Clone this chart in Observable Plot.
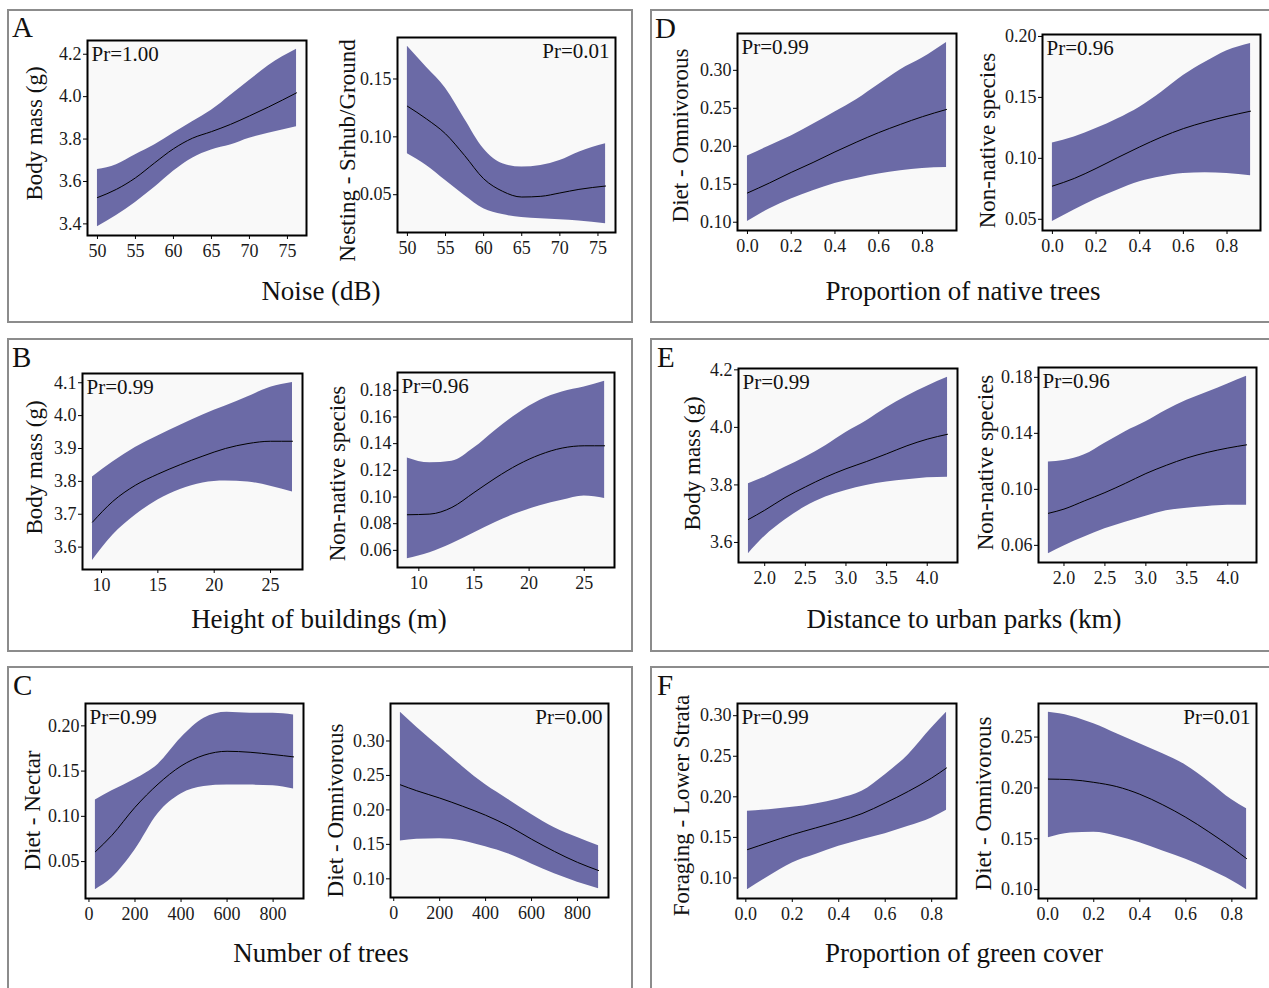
<!DOCTYPE html>
<html><head><meta charset="utf-8">
<script src="https://cdn.jsdelivr.net/npm/d3@7"></script>
<script src="https://cdn.jsdelivr.net/npm/@observablehq/plot@0.6"></script>
<style>
body{margin:0;background:#fff;}
#fig{position:relative;width:1269px;height:988px;overflow:hidden;background:#fff;font-family:"Liberation Serif","Times New Roman",serif;}
.box{position:absolute;box-sizing:border-box;border:2px solid #8c8c8c;}
.sub{position:absolute;}
#overlay{position:absolute;left:0;top:0;}
</style></head><body><div id="fig"></div>
<script>
// ---------- DATA ----------
// A: Noise (dB)
const a1X = [50,52.5,55,57.5,60,62.5,65,67.5,70,72.5,76.2];
const a1Fit = [3.524,3.563,3.617,3.687,3.754,3.804,3.835,3.869,3.909,3.951,4.018];
const a1Hi = [3.656,3.679,3.726,3.772,3.827,3.882,3.936,4.006,4.076,4.146,4.223];
const a1Lo = [3.387,3.439,3.501,3.571,3.648,3.710,3.749,3.772,3.804,3.827,3.858];
const a2X = [50,52.5,55,57.5,60,62.5,65,67.5,70,72.5,76];
const a2Fit = [0.1265,0.1155,0.1026,0.0839,0.0638,0.0529,0.048,0.0486,0.0515,0.0546,0.0575];
const a2Hi = [0.1782,0.1601,0.142,0.1155,0.0897,0.0767,0.0739,0.0753,0.0796,0.0868,0.094];
const a2Lo = [0.0853,0.0753,0.0623,0.0494,0.0379,0.0328,0.0302,0.0293,0.0284,0.0273,0.025];
// D: Proportion of native trees
const d1X = [0,0.1,0.2,0.3,0.4,0.5,0.6,0.7,0.8,0.91];
const d1Fit = [0.1385,0.1516,0.1656,0.1787,0.1926,0.2057,0.218,0.2289,0.239,0.2485];
const d1Hi = [0.1873,0.2004,0.2135,0.2289,0.245,0.2616,0.2813,0.3009,0.3162,0.3367];
const d1Lo = [0.1009,0.1175,0.1306,0.1415,0.1511,0.1577,0.1634,0.1677,0.1708,0.1721];
const d2X = [0,0.1,0.2,0.3,0.4,0.5,0.6,0.7,0.8,0.908];
const d2Fit = [0.0772,0.0835,0.0917,0.1007,0.1094,0.1175,0.1244,0.1298,0.1344,0.1387];
const d2Hi = [0.1126,0.1175,0.1244,0.1325,0.142,0.1543,0.1679,0.1788,0.1883,0.1943];
const d2Lo = [0.0481,0.0576,0.0664,0.074,0.0808,0.0848,0.0876,0.0881,0.0876,0.0857];
// B: Height of buildings (m)
const b1X = [9.2,11,13,15,17,19,21,23,25,26.95];
const b1Fit = [3.676,3.739,3.788,3.822,3.851,3.877,3.9,3.915,3.922,3.922];
const b1Hi = [3.813,3.859,3.903,3.938,3.971,4.002,4.029,4.057,4.086,4.101];
const b1Lo = [3.559,3.636,3.697,3.743,3.775,3.795,3.801,3.798,3.785,3.768];
const b2X = [8.96,11,13,15,17,19,21,23,25,26.85];
const b2Fit = [0.0867,0.0872,0.0922,0.1033,0.1145,0.1243,0.1318,0.1367,0.1384,0.1384];
const b2Hi = [0.1293,0.1256,0.1268,0.1367,0.1503,0.1627,0.1726,0.1788,0.1825,0.1867];
const b2Lo = [0.0538,0.0583,0.065,0.0731,0.0811,0.088,0.0934,0.0976,0.1008,0.0989];
// E: Distance to urban parks (km)
const e1X = [1.8,2.0,2.25,2.5,2.75,3.0,3.25,3.5,3.75,4.0,4.25];
const e1Fit = [3.68,3.712,3.756,3.793,3.827,3.856,3.881,3.908,3.936,3.959,3.976];
const e1Hi = [3.804,3.827,3.861,3.896,3.936,3.982,4.022,4.068,4.108,4.143,4.174];
const e1Lo = [3.561,3.621,3.678,3.724,3.758,3.781,3.798,3.81,3.818,3.825,3.827];
const e2X = [1.81,2.0,2.25,2.5,2.75,3.0,3.25,3.5,3.75,4.0,4.23];
const e2Fit = [0.0829,0.0859,0.0918,0.0977,0.1043,0.1113,0.1172,0.1224,0.1264,0.1295,0.1318];
const e2Hi = [0.1196,0.1207,0.1247,0.133,0.1412,0.1482,0.1565,0.1636,0.1694,0.1753,0.1807];
const e2Lo = [0.0541,0.0596,0.0659,0.0718,0.0765,0.0808,0.0847,0.0866,0.0878,0.0887,0.0887];
// C: Number of trees
const c1X = [28,100,200,300,400,500,600,700,800,889];
const c1Fit = [0.0609,0.0791,0.11,0.1356,0.1556,0.1676,0.1719,0.1708,0.1683,0.1657];
const c1Hi = [0.118,0.1282,0.141,0.1574,0.1865,0.2083,0.2149,0.2138,0.2138,0.212];
const c1Lo = [0.019,0.0318,0.0627,0.1028,0.1246,0.1329,0.1345,0.1345,0.1337,0.1301];
const c2X = [29,100,200,300,400,500,600,700,800,892];
const c2Fit = [0.2364,0.2278,0.2172,0.2053,0.1923,0.1766,0.1575,0.1397,0.1239,0.112];
const c2Hi = [0.3416,0.3201,0.2914,0.2627,0.2364,0.2149,0.1934,0.1741,0.1598,0.1479];
const c2Lo = [0.155,0.1575,0.1583,0.155,0.1464,0.1359,0.1216,0.1072,0.0952,0.0857];
// F: Proportion of green cover
const f1X = [0.007,0.1,0.2,0.3,0.4,0.5,0.6,0.7,0.8,0.864];
const f1Fit = [0.1349,0.1439,0.1534,0.1616,0.1698,0.1793,0.1924,0.2068,0.2232,0.2356];
const f1Hi = [0.1821,0.1842,0.187,0.1912,0.1974,0.2068,0.2273,0.252,0.2848,0.3041];
const f1Lo = [0.0856,0.102,0.1185,0.1288,0.139,0.1472,0.1546,0.1636,0.174,0.1833];
const f2X = [0.003,0.1,0.2,0.3,0.4,0.5,0.6,0.7,0.8,0.864];
const f2Fit = [0.2087,0.2081,0.2055,0.2013,0.1938,0.1834,0.1711,0.1568,0.1412,0.1305];
const f2Hi = [0.2743,0.2705,0.263,0.2532,0.2435,0.2337,0.2224,0.2062,0.1883,0.1795];
const f2Lo = [0.151,0.1558,0.1565,0.1526,0.1461,0.138,0.1298,0.1201,0.1088,0.1];

// tick values
const noiseTicks = [50,55,60,65,70,75];
const buildingTicks = [10,15,20,25];
const treeTicks = [0,200,400,600,800];
const propTicks = [0,0.2,0.4,0.6,0.8];
const parkTicks = [2.0,2.5,3.0,3.5,4.0];

// panel texts
const panelLetters = ["A","B","C","D","E","F"];
const panelTitles = ["Noise (dB)","Height of buildings (m)","Number of trees","Proportion of native trees","Distance to urban parks (km)","Proportion of green cover"];
const yLabels = ["Body mass (g)","Nesting - Srhub/Ground","Body mass (g)","Non-native species","Diet - Nectar","Diet - Omnivorous",
                 "Diet - Omnivorous","Non-native species","Body mass (g)","Non-native species","Foraging - Lower Strata","Diet - Omnivorous"];
const prLabels = ["Pr=1.00","Pr=0.01","Pr=0.99","Pr=0.96","Pr=0.99","Pr=0.00","Pr=0.99","Pr=0.96","Pr=0.99","Pr=0.96","Pr=0.99","Pr=0.01"];

// ---------- LAYOUT ----------
const FONT = '"Liberation Serif","Times New Roman",serif';
const RIBBON = "#6b6aa6";
const fig = document.getElementById("fig");

// panel boxes [left, top, width, height]
const boxes = [[7,9,626,314],[7,338,626,314],[7,666,626,340],[650,9,640,314],[650,338,640,314],[650,666,640,340]];
boxes.forEach(b=>{
  const d=document.createElement("div"); d.className="box";
  Object.assign(d.style,{left:b[0]+"px",top:b[1]+"px",width:b[2]+"px",height:b[3]+"px"});
  fig.appendChild(d);
});

// letters & titles as text in an overlay svg
const letterPos = [[12,37],[12,367],[13,695],[655,38],[657,367],[657,695]];
const titlePos = [[321,300],[319,628],[321,962],[963,300],[964,628],[964,962]];
const ov = d3.select(fig).append("svg").attr("id","overlay").attr("width",1269).attr("height",988)
  .style("font-family",FONT);
panelLetters.forEach((t,i)=>ov.append("text").attr("x",letterPos[i][0]).attr("y",letterPos[i][1]).attr("font-size",29).attr("fill","#111").text(t));
panelTitles.forEach((t,i)=>ov.append("text").attr("x",titlePos[i][0]).attr("y",titlePos[i][1]).attr("font-size",27).attr("text-anchor","middle").attr("fill","#111").text(t));

// subplot specs: frame [L,T,R,B], label centre [x,y]
const subs = [
 {frame:[87,40,306,235], X:a1X,F:a1Fit,Lo:a1Lo,Hi:a1Hi, xt:noiseTicks, xf:"d", yt:[3.4,3.6,3.8,4.0,4.2], yf:".1f", lab:[34,133], yl:0, pr:0, side:"left"},
 {frame:[397,37,615,232], X:a2X,F:a2Fit,Lo:a2Lo,Hi:a2Hi, xt:noiseTicks, xf:"d", yt:[0.05,0.10,0.15], yf:".2f", lab:[347,150], yl:1, pr:1, side:"right"},
 {frame:[82,373,302,569], X:b1X,F:b1Fit,Lo:b1Lo,Hi:b1Hi, xt:buildingTicks, xf:"d", yt:[3.6,3.7,3.8,3.9,4.0,4.1], yf:".1f", lab:[34,467], yl:2, pr:2, side:"left"},
 {frame:[397,372,614,567], X:b2X,F:b2Fit,Lo:b2Lo,Hi:b2Hi, xt:buildingTicks, xf:"d", yt:[0.06,0.08,0.10,0.12,0.14,0.16,0.18], yf:".2f", lab:[337,473], yl:3, pr:3, side:"left"},
 {frame:[85,703,303,898], X:c1X,F:c1Fit,Lo:c1Lo,Hi:c1Hi, xt:treeTicks, xf:"d", yt:[0.05,0.10,0.15,0.20], yf:".2f", lab:[32,810], yl:4, pr:4, side:"left"},
 {frame:[390,703,608,897], X:c2X,F:c2Fit,Lo:c2Lo,Hi:c2Hi, xt:treeTicks, xf:"d", yt:[0.10,0.15,0.20,0.25,0.30], yf:".2f", lab:[335,810], yl:5, pr:5, side:"right"},
 {frame:[737,33,956,230], X:d1X,F:d1Fit,Lo:d1Lo,Hi:d1Hi, xt:propTicks, xf:".1f", yt:[0.10,0.15,0.20,0.25,0.30], yf:".2f", lab:[680,135], yl:6, pr:6, side:"left"},
 {frame:[1042,34,1260,230], X:d2X,F:d2Fit,Lo:d2Lo,Hi:d2Hi, xt:propTicks, xf:".1f", yt:[0.05,0.10,0.15,0.20], yf:".2f", lab:[987,140], yl:7, pr:7, side:"left"},
 {frame:[738,368,957,562], X:e1X,F:e1Fit,Lo:e1Lo,Hi:e1Hi, xt:parkTicks, xf:".1f", yt:[3.6,3.8,4.0,4.2], yf:".1f", lab:[692,463], yl:8, pr:8, side:"left"},
 {frame:[1038,367,1256,562], X:e2X,F:e2Fit,Lo:e2Lo,Hi:e2Hi, xt:parkTicks, xf:".1f", yt:[0.06,0.10,0.14,0.18], yf:".2f", lab:[985,462], yl:9, pr:9, side:"left"},
 {frame:[737,703,956,898], X:f1X,F:f1Fit,Lo:f1Lo,Hi:f1Hi, xt:propTicks, xf:".1f", yt:[0.10,0.15,0.20,0.25,0.30], yf:".2f", lab:[681,805], yl:10, pr:10, side:"left"},
 {frame:[1038,703,1256,898], X:f2X,F:f2Fit,Lo:f2Lo,Hi:f2Hi, xt:propTicks, xf:".1f", yt:[0.10,0.15,0.20,0.25], yf:".2f", lab:[983,803], yl:11, pr:11, side:"right"}
];

function expand(arr){const [a,b]=d3.extent(arr);const r=b-a;return [a-0.05*r,b+0.05*r];}

const ML=80, MT=12, MR=12, MB=40;
subs.forEach(s=>{
  const [L,T,R,B]=s.frame;
  const rows = s.X.map((x,i)=>({x, fit:s.F[i], lo:s.Lo[i], hi:s.Hi[i]}));
  const left = s.side==="left";
  const plot = Plot.plot({
    width: R-L+ML+MR, height: B-T+MT+MB,
    marginLeft: ML, marginTop: MT, marginRight: MR, marginBottom: MB,
    x: {domain: expand(s.X)},
    y: {domain: expand([...s.Lo, ...s.Hi])},
    style: {fontFamily: FONT, fontSize: "18px", background: "transparent", color: "#000", overflow: "visible", maxWidth: "none"},
    marks: [
      Plot.frame({fill: "#f9f9f9"}),
      Plot.areaY(rows, {x: "x", y1: "lo", y2: "hi", fill: RIBBON, curve: "monotone-x"}),
      Plot.line(rows, {x: "x", y: "fit", stroke: "#000", strokeWidth: 1, curve: "monotone-x"}),
      Plot.frame({stroke: "#000", strokeWidth: 2}),
      Plot.axisX({ticks: s.xt, tickFormat: d3.format(s.xf), tickSize: 4, tickPadding: 5, label: null, fill: "#1a1a1a", fontSize: 18}),
      Plot.axisY({ticks: s.yt, tickFormat: d3.format(s.yf), tickSize: 4, tickPadding: 2, label: null, fill: "#1a1a1a", fontSize: 18}),
      Plot.text([yLabels[s.yl]], {frameAnchor: "left", text: d => d, rotate: -90, dx: s.lab[0]-L, dy: s.lab[1]-(T+B)/2,
        textAnchor: "middle", lineAnchor: "middle", fontSize: 23, fill: "#111"}),
      Plot.text([prLabels[s.pr]], {frameAnchor: left ? "top-left" : "top-right", text: d => d,
        dx: left ? 4 : -6, dy: 6, textAnchor: left ? "start" : "end", lineAnchor: "top", fontSize: 21, fill: "#111"})
    ]
  });
  const div=document.createElement("div"); div.className="sub";
  div.style.left=(L-ML)+"px"; div.style.top=(T-MT)+"px";
  div.appendChild(plot); fig.appendChild(div);
});
</script></body></html>
